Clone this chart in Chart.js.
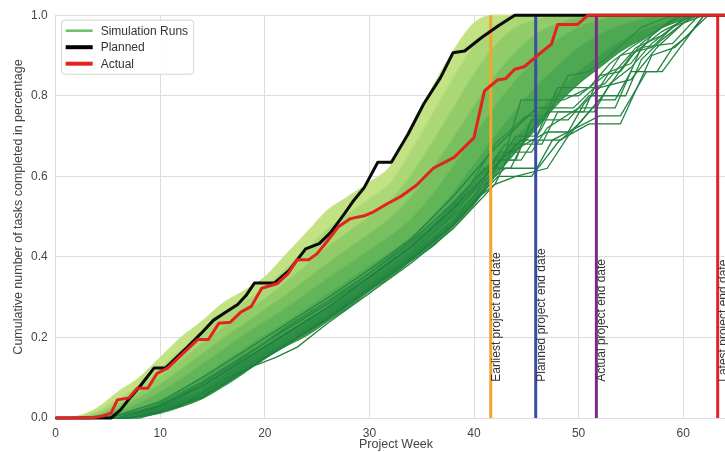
<!DOCTYPE html>
<html>
<head>
<meta charset="utf-8">
<script src="https://cdn.jsdelivr.net/npm/chart.js@4.4.1/dist/chart.umd.min.js"></script>
<style>
html,body{margin:0;padding:0;background:#fff;}
#wrap{width:725px;height:452px;position:relative;overflow:hidden;}
</style>
</head>
<body>
<div id="wrap"><canvas id="c" width="725" height="452"></canvas></div>
<script>
// ---------------- DATA ----------------
const denseWeeks = [0,2,4,6,8,10,12,14,16,18,20,22,24,26,28,30,32,34,36,38,40,42,44,46,48,50,52,54,56,58,60,62,64];
// dense simulation runs, fastest (lightest) to slowest (darkest)
const runD1 = [0,0.004,0.025,0.065,0.1,0.15,0.2,0.24,0.285,0.315,0.35,0.405,0.46,0.515,0.55,0.585,0.625,0.725,0.82,0.91,0.98,1,1,1,1,1,1,1,1,1,1,1,1];
const runD2 = [0,0.003,0.018,0.048,0.082,0.125,0.17,0.212,0.255,0.29,0.325,0.372,0.42,0.47,0.508,0.545,0.585,0.665,0.755,0.845,0.925,0.975,1,1,1,1,1,1,1,1,1,1,1];
const runD3 = [0,0.002,0.012,0.036,0.066,0.104,0.145,0.186,0.226,0.262,0.297,0.338,0.38,0.425,0.463,0.5,0.54,0.605,0.685,0.77,0.855,0.925,0.97,0.99,1,1,1,1,1,1,1,1,1];
const runD4 = [0,0.001,0.008,0.026,0.052,0.085,0.122,0.16,0.198,0.234,0.27,0.306,0.345,0.385,0.422,0.458,0.497,0.55,0.62,0.695,0.775,0.85,0.91,0.955,0.98,0.995,1,1,1,1,1,1,1];
const runD5 = [0,0,0.005,0.017,0.038,0.065,0.098,0.134,0.17,0.206,0.24,0.274,0.31,0.347,0.382,0.417,0.453,0.495,0.555,0.625,0.7,0.775,0.84,0.895,0.94,0.97,0.988,1,1,1,1,1,1];
const runD6 = [0,0,0.002,0.009,0.024,0.045,0.072,0.104,0.138,0.172,0.206,0.238,0.272,0.307,0.342,0.377,0.412,0.45,0.5,0.56,0.63,0.7,0.765,0.825,0.875,0.92,0.952,0.975,0.99,1,1,1,1];
const runD7 = [0,0,0.001,0.005,0.013,0.028,0.048,0.074,0.106,0.14,0.174,0.206,0.238,0.272,0.306,0.342,0.378,0.415,0.458,0.51,0.57,0.635,0.695,0.755,0.81,0.86,0.9,0.935,0.962,0.982,0.995,1,1];
const runD8 = [0,0,0,0,0.003,0.012,0.028,0.048,0.078,0.112,0.148,0.178,0.205,0.24,0.275,0.315,0.35,0.39,0.425,0.475,0.53,0.6,0.66,0.72,0.78,0.83,0.87,0.91,0.94,0.97,0.99,1,1];

// slow simulation runs with stalls: [week, share]
const runS1 = [[0,0],[7,0],[10,0.014],[14,0.05],[18,0.115],[22,0.18],[26,0.245],[30,0.318],[34,0.392],[38,0.478],[40.7,0.556],[42.3,0.6],[45.5,0.6],[48.2,0.69],[51,0.73],[54,0.73],[57,0.9],[59.2,0.92],[62.4,1],[64,1]];
const runS2 = [[0,0],[7,0],[10,0.02],[14,0.06],[18,0.125],[22,0.19],[26,0.255],[30,0.33],[34,0.405],[38,0.49],[41,0.58],[43,0.62],[46,0.62],[47.5,0.69],[52,0.75],[54,0.75],[56.5,0.86],[58,0.86],[60,0.93],[62,1],[64,1]];
const runS3 = [[0,0],[6,0],[10,0.025],[14,0.07],[18,0.135],[22,0.2],[26,0.265],[30,0.34],[34,0.415],[38,0.505],[41,0.6],[42.5,0.66],[45.5,0.66],[47,0.72],[50,0.77],[53.5,0.77],[56,0.92],[59,0.93],[61.5,1],[64,1]];
const runS4 = [[0,0],[6,0],[10,0.03],[14,0.08],[18,0.145],[22,0.21],[26,0.275],[30,0.35],[34,0.425],[38,0.52],[41,0.6],[44.5,0.69],[48.3,0.69],[50,0.73],[52,0.79],[53.5,0.79],[55,0.86],[57.5,0.86],[59,0.92],[60.5,0.95],[62,1],[64,1]];
const runS5 = [[0,0],[6,0],[10,0.035],[14,0.09],[18,0.155],[22,0.22],[26,0.285],[30,0.358],[34,0.435],[38,0.535],[41.5,0.63],[43,0.66],[44.5,0.79],[48.6,0.79],[51,0.82],[53,0.88],[55,0.92],[58,0.97],[61,1],[64,1]];
const runS6 = [[0,0],[5,0],[10,0.04],[14,0.1],[18,0.165],[22,0.232],[26,0.298],[30,0.368],[34,0.445],[38,0.55],[42,0.67],[44,0.72],[46,0.77],[49.5,0.77],[51.5,0.82],[52.5,0.83],[55.5,0.92],[58,0.95],[60.5,1],[64,1]];
const runS7 = [[0,0],[5,0],[10,0.03],[14,0.075],[18,0.14],[22,0.205],[26,0.27],[30,0.345],[34,0.42],[38,0.51],[42,0.68],[45,0.75],[47,0.75],[49,0.85],[51,0.86],[53,0.9],[56,0.97],[58,0.99],[59.5,1],[64,1]];
const runS8 = [[0,0],[8,0],[12,0.03],[16.4,0.1],[19,0.13],[21,0.15],[23.1,0.176],[26,0.235],[30,0.31],[34,0.385],[38,0.47],[42,0.58],[44,0.6],[47,0.62],[49,0.7],[52,0.79],[55,0.9],[58,0.96],[61,1],[64,1]];
const runS9 = [[0,0],[6,0],[10,0.028],[14,0.085],[18,0.15],[22,0.225],[26,0.29],[30,0.36],[34,0.44],[38,0.53],[41,0.62],[43.5,0.62],[45,0.7],[47,0.76],[50.5,0.76],[52,0.85],[54,0.86],[56,0.93],[58.5,0.98],[60,1],[64,1]];
const runS10 = [[0,0],[6,0],[10,0.022],[14,0.065],[18,0.13],[22,0.195],[26,0.26],[30,0.335],[34,0.41],[38,0.5],[40,0.55],[42,0.64],[44.5,0.64],[46.5,0.72],[48,0.8],[50,0.8],[53,0.86],[55,0.88],[57,0.95],[59.5,1],[64,1]];
const runS11 = [[0,0],[7,0],[10,0.018],[14,0.055],[18,0.12],[22,0.185],[26,0.25],[30,0.325],[34,0.4],[38,0.485],[41,0.57],[42.5,0.64],[44,0.64],[45.5,0.74],[49,0.74],[51,0.8],[54.5,0.8],[56,0.89],[58,0.94],[61,1],[64,1]];
const runS12 = [[0,0],[6,0],[10,0.032],[14,0.088],[18,0.152],[22,0.218],[26,0.282],[30,0.352],[34,0.43],[38,0.525],[41,0.61],[43,0.68],[46.5,0.68],[48,0.76],[51.5,0.76],[53,0.83],[55,0.87],[57,0.93],[59,0.97],[60.5,1],[64,1]];
const runS13 = [[0,0],[7,0],[10,0.016],[14,0.052],[18,0.118],[22,0.183],[26,0.248],[30,0.322],[34,0.396],[38,0.48],[40.5,0.55],[42,0.58],[43.5,0.66],[47,0.71],[49,0.71],[50.5,0.78],[52,0.82],[55,0.84],[57.5,0.92],[60,0.98],[62,1],[64,1]];
const runS14 = [[0,0],[6,0],[10,0.026],[14,0.078],[18,0.142],[22,0.208],[26,0.272],[30,0.347],[34,0.425],[38,0.515],[41.5,0.6],[44,0.7],[46,0.7],[48,0.82],[52,0.82],[54,0.9],[57,0.92],[59,0.97],[61.5,1],[64,1]];

const plannedCurve = [[0,0],[5.3,0],[6.2,0.02],[7.2,0.053],[8.1,0.08],[9.4,0.124],[10.5,0.124],[11.3,0.144],[12.6,0.176],[13.9,0.21],[15.1,0.243],[16.4,0.265],[17.4,0.282],[18.2,0.304],[19,0.335],[20.9,0.335],[22.3,0.366],[23.9,0.42],[25.2,0.433],[26.3,0.461],[27.6,0.507],[28.5,0.54],[29.5,0.572],[30.8,0.635],[32.1,0.635],[33.7,0.705],[35.2,0.78],[36.8,0.845],[38,0.907],[39.1,0.911],[40.7,0.944],[42.3,0.973],[43.9,1],[64,1]];
const actualCurve = [[0,0],[3.3,0],[4.5,0.005],[5.3,0.012],[5.9,0.045],[7,0.05],[7.8,0.074],[8.8,0.074],[9.7,0.111],[10.7,0.124],[12,0.156],[13.6,0.195],[14.6,0.195],[15.6,0.235],[16.7,0.238],[17.7,0.263],[18.7,0.277],[19.7,0.322],[21.2,0.334],[22.2,0.358],[23.1,0.393],[24.2,0.393],[25,0.408],[26,0.44],[27,0.474],[28.2,0.495],[29.5,0.502],[30.4,0.512],[31.7,0.532],[33,0.55],[34.5,0.578],[36.1,0.62],[38.1,0.647],[40,0.696],[41,0.812],[42.3,0.84],[43,0.842],[43.9,0.866],[44.8,0.872],[46.2,0.903],[47.4,0.928],[48,0.977],[49.9,0.977],[50.9,1],[64,1]];

const endDateWeeks = [41.6, 45.9, 51.7, 63.3];
const endDateLabels = ["Earliest project end date", "Planned project end date", "Actual project end date", "Latest project end date"];
const labelAtShare = 0.09;
const xTickValues = [0,10,20,30,40,50,60];
const yTickValues = [0,0.2,0.4,0.6,0.8,1.0];
const legendLabels = ["Simulation Runs", "Planned", "Actual"];
const xTitle = "Project Week";
const yTitle = "Cumulative number of tasks completed in percentage";

// ---------------- STYLE ----------------
const denseRuns = [runD1, runD2, runD3, runD4, runD5, runD6, runD7, runD8];
const denseFill = ['#cbe690', '#c2e283', '#abd874', '#91cc68', '#78c05f', '#62b458', '#4ea851', '#3e9c4a'];
const denseLine = ['#c6e389', '#b7dd7b', '#9dd16d', '#83c562', '#6bb95a', '#55ac53', '#43a04c', '#339346'];
const sparseRuns = [runS1, runS2, runS3, runS4, runS5, runS6, runS7, runS8, runS9, runS10, runS11, runS12, runS13, runS14];
const sparseLine = ['#1f8040', '#238543', '#278946', '#1e7d3e', '#2a8c47', '#24873f', '#2c8e49', '#22823f', '#26883f', '#2a8a45', '#248641', '#2b8d48', '#1f7f3f', '#288a44'];
const endColors = ['#f2a52a', '#3a4da3', '#7b2b87', '#e3222b'];
const legendColors = ['#6cbf6a', '#000000', '#e3231f'];
const legendWidths = [2.5, 4, 4];

Chart.defaults.font.family = "'Liberation Sans', Arial, Helvetica, sans-serif";
Chart.defaults.font.size = 12;
Chart.defaults.color = '#444';

const datasets = [];
denseRuns.forEach((vals, i) => {
  datasets.push({
    data: denseWeeks.map((w, j) => ({x: w, y: vals[j]})),
    borderColor: denseLine[i], backgroundColor: denseFill[i],
    borderWidth: 1.2, fill: i === 0 ? false : '-1',
    cubicInterpolationMode: 'monotone', pointRadius: 0, order: 10, clip: 6
  });
});
sparseRuns.forEach((run, i) => {
  datasets.push({
    data: run.map(p => ({x: p[0], y: p[1]})),
    borderColor: sparseLine[i], borderWidth: 1.3, fill: false, tension: 0,
    pointRadius: 0, order: 8, clip: 6
  });
});
endDateWeeks.forEach((w, i) => {
  datasets.push({
    data: [{x: w, y: 0}, {x: w, y: 1}],
    borderColor: endColors[i], borderWidth: 3, fill: false, pointRadius: 0,
    order: 5, clip: 6, borderCapStyle: 'butt'
  });
});
datasets.push({
  data: plannedCurve.map(p => ({x: p[0], y: p[1]})),
  borderColor: '#0a0a0a', borderWidth: 3, fill: false, tension: 0, pointRadius: 0, order: 2, clip: 6,
  borderJoinStyle: 'round'
});
datasets.push({
  data: actualCurve.map(p => ({x: p[0], y: p[1]})),
  borderColor: '#e3231f', borderWidth: 3, fill: false, tension: 0, pointRadius: 0, order: 1, clip: 6,
  borderJoinStyle: 'round'
});

const annotPlugin = {
  id: 'annot',
  afterDatasetsDraw(chart) {
    const ctx = chart.ctx, xs = chart.scales.x, ys = chart.scales.y;
    ctx.save();
    ctx.font = "12px 'Liberation Sans', Arial, sans-serif";
    ctx.fillStyle = '#333';
    ctx.textAlign = 'left';
    ctx.textBaseline = 'alphabetic';
    endDateWeeks.forEach((w, i) => {
      const px = xs.getPixelForValue(w) + 9;
      const py = ys.getPixelForValue(labelAtShare);
      ctx.save();
      ctx.translate(px, py);
      ctx.rotate(-Math.PI / 2);
      ctx.fillText(endDateLabels[i], 0, 0);
      ctx.restore();
    });
    ctx.restore();
  },
  afterDraw(chart) {
    const ctx = chart.ctx, ca = chart.chartArea;
    ctx.save();
    // axis titles
    ctx.font = "12.5px 'Liberation Sans', Arial, sans-serif";
    ctx.fillStyle = '#444';
    ctx.textAlign = 'center';
    ctx.textBaseline = 'middle';
    ctx.fillText(xTitle, 396, 445);
    ctx.save();
    ctx.translate(19, 207);
    ctx.rotate(-Math.PI / 2);
    ctx.fillText(yTitle, 0, 0);
    ctx.restore();
    // legend box
    const x0 = ca.left + 6, y0 = ca.top + 5, w = 132, h = 54, r = 3;
    ctx.beginPath();
    ctx.moveTo(x0 + r, y0);
    ctx.lineTo(x0 + w - r, y0); ctx.quadraticCurveTo(x0 + w, y0, x0 + w, y0 + r);
    ctx.lineTo(x0 + w, y0 + h - r); ctx.quadraticCurveTo(x0 + w, y0 + h, x0 + w - r, y0 + h);
    ctx.lineTo(x0 + r, y0 + h); ctx.quadraticCurveTo(x0, y0 + h, x0, y0 + h - r);
    ctx.lineTo(x0, y0 + r); ctx.quadraticCurveTo(x0, y0, x0 + r, y0);
    ctx.closePath();
    ctx.fillStyle = 'rgba(255,255,255,0.9)';
    ctx.fill();
    ctx.strokeStyle = '#d4d4d4';
    ctx.lineWidth = 1;
    ctx.stroke();
    ctx.font = "12px 'Liberation Sans', Arial, sans-serif";
    ctx.textAlign = 'left';
    ctx.textBaseline = 'middle';
    legendLabels.forEach((lab, i) => {
      const yy = y0 + 10.5 + i * 16.5;
      ctx.beginPath();
      ctx.moveTo(x0 + 4, yy);
      ctx.lineTo(x0 + 31, yy);
      ctx.strokeStyle = legendColors[i];
      ctx.lineWidth = legendWidths[i];
      ctx.stroke();
      ctx.fillStyle = '#333';
      ctx.fillText(lab, x0 + 39, yy + 0.5);
    });
    ctx.restore();
  }
};

new Chart(document.getElementById('c'), {
  type: 'line',
  data: {datasets},
  plugins: [annotPlugin],
  options: {
    responsive: false,
    animation: false,
    devicePixelRatio: 1,
    layout: {padding: {left: 23, right: 0, top: 14, bottom: 3.6}},
    plugins: {legend: {display: false}, tooltip: {enabled: false}},
    elements: {line: {borderCapStyle: 'butt'}},
    scales: {
      x: {
        type: 'linear', min: 0, max: 64,
        afterBuildTicks: (axis) => { axis.ticks = xTickValues.map(v => ({value: v})); },
        ticks: {padding: 8, color: '#444', font: {size: 12}, callback: (v) => String(v)},
        grid: {color: '#dddddd', lineWidth: 1, drawTicks: false},
        border: {color: '#dddddd'}
      },
      y: {
        type: 'linear', min: 0, max: 1,
        afterBuildTicks: (axis) => { axis.ticks = yTickValues.map(v => ({value: v})); },
        ticks: {padding: 8, color: '#444', font: {size: 12}, callback: (v) => Number(v).toFixed(1)},
        grid: {color: '#dddddd', lineWidth: 1, drawTicks: false},
        border: {color: '#dddddd'}
      }
    }
  }
});
</script>
</body>
</html>
